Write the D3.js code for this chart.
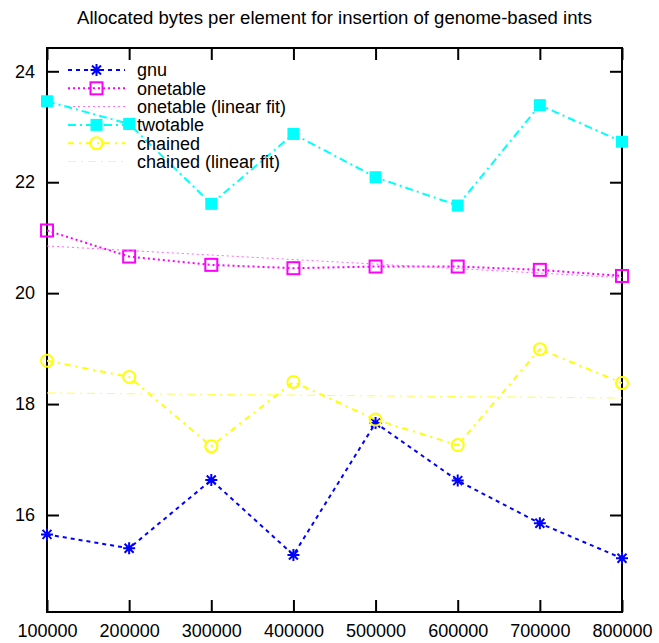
<!DOCTYPE html>
<html>
<head>
<meta charset="utf-8">
<script src="https://cdn.jsdelivr.net/npm/d3@7"></script>
<style>
  body { margin: 0; background: #fff; }
  #chart { width: 659px; height: 643px; }
  text { font-family: "Liberation Sans", Arial, sans-serif; }
</style>
</head>
<body>
<div id="chart"></div>
<script>
// data
const xValues = [100000, 200000, 300000, 400000, 500000, 600000, 700000, 800000];
const gnu = [15.65, 15.40, 16.63, 15.28, 17.66, 16.62, 15.85, 15.22];
const onetable = [21.13, 20.66, 20.51, 20.45, 20.48, 20.48, 20.42, 20.31];
const twotable = [23.46, 23.05, 21.61, 22.87, 22.09, 21.58, 23.39, 22.73];
const chained = [18.78, 18.49, 17.24, 18.40, 17.72, 17.26, 18.99, 18.38];
// linear fits: value at first and last x
const fitX = [100000, 800000];
const onetableFit = [20.85, 20.28];
const chainedFit = [18.20, 18.11];
const yTicks = [16, 18, 20, 22, 24];

const width = 659, height = 643;
const margin = {left: 47, right: 37, top: 48, bottom: 31};

const svg = d3.select("#chart").append("svg")
    .attr("width", width)
    .attr("height", height);

const x = d3.scaleLinear()
    .domain([100000, 800000])
    .range([margin.left, width - margin.right]);

const y = d3.scaleLinear()
    .domain([14.251, 24.42])
    .range([height - margin.bottom, margin.top]);

// title (the original font is a bit wider, so stretch it to the same span)
svg.append("text")
    .attr("x", 334.5)
    .attr("y", 24)
    .attr("text-anchor", "middle")
    .attr("font-size", "18px")
    .attr("textLength", 515)
    .attr("lengthAdjust", "spacingAndGlyphs")
    .attr("fill", "#000")
    .text("Allocated bytes per element for insertion of genome-based ints");

// axes, ticks point inward on all four sides
svg.append("g")
    .attr("transform", "translate(0," + y.range()[0] + ")")
    .call(d3.axisBottom(x).tickValues(xValues).tickSize(-12).tickPadding(12)
        .tickFormat(d3.format("d")));
svg.append("g")
    .attr("transform", "translate(0," + y.range()[1] + ")")
    .call(d3.axisTop(x).tickValues(xValues).tickSize(-12).tickFormat(""));
svg.append("g")
    .attr("transform", "translate(" + x.range()[0] + ",0)")
    .call(d3.axisLeft(y).tickValues(yTicks).tickSize(-12).tickPadding(12));
svg.append("g")
    .attr("transform", "translate(" + x.range()[1] + ",0)")
    .call(d3.axisRight(y).tickValues(yTicks).tickSize(-12).tickFormat(""));

svg.selectAll(".domain").remove();
svg.selectAll(".tick line").attr("stroke", "#000").attr("stroke-width", 2);
svg.selectAll(".tick text")
    .attr("font-size", "18px")
    .attr("fill", "#000")
    .attr("font-family", "Liberation Sans, Arial, sans-serif");

svg.append("rect")
    .attr("x", x.range()[0])
    .attr("y", y.range()[1])
    .attr("width", x.range()[1] - x.range()[0])
    .attr("height", y.range()[0] - y.range()[1])
    .attr("fill", "none")
    .attr("stroke", "#000")
    .attr("stroke-width", 2);

// markers
function drawMarker(g, type, color, cx, cy) {
    const s = 6;
    if (type === "star") {
        g.append("path")
            .attr("d", "M" + (cx - s) + "," + cy + "H" + (cx + s) +
                "M" + cx + "," + (cy - s) + "V" + (cy + s) +
                "M" + (cx - 4.5) + "," + (cy - 4.5) + "L" + (cx + 4.5) + "," + (cy + 4.5) +
                "M" + (cx - 4.5) + "," + (cy + 4.5) + "L" + (cx + 4.5) + "," + (cy - 4.5))
            .attr("stroke", color)
            .attr("stroke-width", 2)
            .attr("fill", "none");
    } else if (type === "box") {
        g.append("rect")
            .attr("x", cx - s).attr("y", cy - s)
            .attr("width", 2 * s).attr("height", 2 * s)
            .attr("fill", "none").attr("stroke", color).attr("stroke-width", 2);
    } else if (type === "fbox") {
        g.append("rect")
            .attr("x", cx - s).attr("y", cy - s)
            .attr("width", 2 * s).attr("height", 2 * s)
            .attr("fill", color);
    } else if (type === "circle") {
        g.append("circle")
            .attr("cx", cx).attr("cy", cy).attr("r", s)
            .attr("fill", "none").attr("stroke", color).attr("stroke-width", 2);
    }
}

const series = [
    {name: "gnu", xs: xValues, ys: gnu, color: "#0000ff", dash: "4,4", width: 2, marker: "star"},
    {name: "onetable", xs: xValues, ys: onetable, color: "#ff00ff", dash: "2,3", width: 2, marker: "box"},
    {name: "onetable (linear fit)", xs: fitX, ys: onetableFit, color: "#ff66ff", dash: "2,3", width: 1, marker: null},
    {name: "twotable", xs: xValues, ys: twotable, color: "#00ffff", dash: "8,4,2,4", width: 2, marker: "fbox"},
    {name: "chained", xs: xValues, ys: chained, color: "#ffff00", dash: "6,5,2,5", width: 2, marker: "circle"},
    {name: "chained (linear fit)", xs: fitX, ys: chainedFit, color: "#ffff44", dash: "8,5,2,5", width: 1, marker: null}
];

const line = d3.line()
    .x(function(d) { return x(d[0]); })
    .y(function(d) { return y(d[1]); });

const legendX0 = 68, legendX1 = 125, legendTextX = 137, legendY0 = 70, legendStep = 18.3;

series.forEach(function(s, i) {
    const g = svg.append("g");
    const ly = legendY0 + i * legendStep;

    // legend entry
    g.append("line")
        .attr("x1", legendX0).attr("x2", legendX1)
        .attr("y1", ly).attr("y2", ly)
        .attr("stroke", s.color)
        .attr("stroke-width", s.width)
        .attr("stroke-dasharray", s.dash);
    if (s.marker) drawMarker(g, s.marker, s.color, (legendX0 + legendX1) / 2, ly);
    g.append("text")
        .attr("x", legendTextX)
        .attr("y", ly)
        .attr("dy", "0.35em")
        .attr("font-size", "18px")
        .attr("fill", "#000")
        .text(s.name);

    // data
    const pts = s.xs.map(function(v, j) { return [v, s.ys[j]]; });
    g.append("path")
        .datum(pts)
        .attr("d", line)
        .attr("fill", "none")
        .attr("stroke", s.color)
        .attr("stroke-width", s.width)
        .attr("stroke-dasharray", s.dash);
    if (s.marker) {
        pts.forEach(function(p) { drawMarker(g, s.marker, s.color, x(p[0]), y(p[1])); });
    }
});
</script>
</body>
</html>
